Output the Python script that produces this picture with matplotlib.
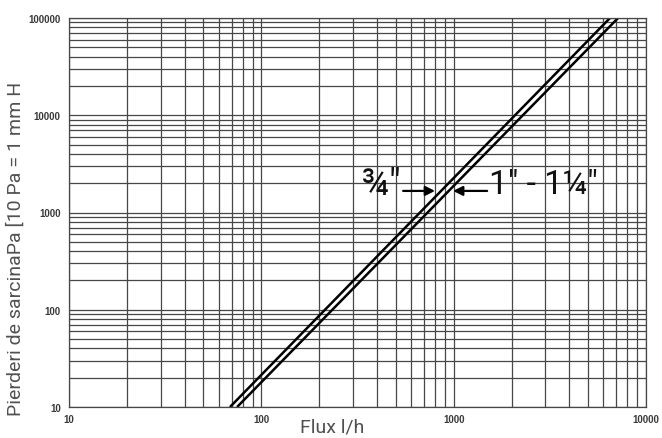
import matplotlib
matplotlib.use('Agg')
from matplotlib import pyplot as plt
from matplotlib.ticker import NullFormatter, LogLocator

# pressure drop curves (log-log)
dp_pa = [10, 100000]
flow_34 = [68.7, 6500]      # 3/4"
flow_1 = [74.8, 7160]       # 1" - 1 1/4"

x_ticks = [10, 100, 1000, 10000]
y_ticks = [10, 100, 1000, 10000, 100000]

GRID_COL = '#474747'
TEXT_COL = '#3a3a3a'
LABEL_COL = '#505050'

fig = plt.figure(figsize=(6.62, 4.39), dpi=100)
ax = fig.add_axes([69/662, 1 - 408/439, 577/662, 389/439])

ax.loglog(flow_34, dp_pa, color='k', lw=1.8, solid_capstyle='butt')
ax.loglog(flow_1, dp_pa, color='k', lw=1.8, solid_capstyle='butt')

ax.set_xlim(10, 10000)
ax.set_ylim(10, 100000)

ax.xaxis.set_minor_locator(LogLocator(base=10, subs=range(2, 10), numticks=20))
ax.yaxis.set_minor_locator(LogLocator(base=10, subs=range(2, 10), numticks=20))
ax.xaxis.set_minor_formatter(NullFormatter())
ax.yaxis.set_minor_formatter(NullFormatter())
ax.grid(True, which='both', color=GRID_COL, lw=0.9)

ax.set_xticks(x_ticks)
ax.set_xticklabels([str(v) for v in x_ticks])
ax.set_yticks(y_ticks)
ax.set_yticklabels([str(v) for v in y_ticks])
ax.tick_params(which='both', length=0)
ax.tick_params(axis='x', pad=5, labelsize=7, labelcolor=TEXT_COL)
ax.tick_params(axis='y', pad=6, labelsize=7, labelcolor=TEXT_COL)
for lab in ax.get_xticklabels() + ax.get_yticklabels():
    lab.set_fontweight('bold')
    lab.set_family('Liberation Sans')

for s in ax.spines.values():
    s.set_color(GRID_COL)
    s.set_linewidth(0.9)

# size annotations
arrow = dict(arrowstyle='-|>', color='k', lw=1.6, mutation_scale=14, shrinkA=0, shrinkB=0)
ax.annotate('', xy=(800, 1667), xytext=(546, 1667), arrowprops=arrow)
ax.annotate('', xy=(993, 1667), xytext=(1493, 1667), arrowprops=arrow)
ax.text(530, 1950, '\u00be"', ha='right', va='center', fontsize=26,
        family='Roboto', color='#111111')
ax.text(1530, 1950, '1" - 1\u00bc"', ha='left', va='center', fontsize=24,
        family='Roboto', color='#111111')

fig.text(332/662, 1 - 428/439, 'Flux l/h', ha='center', va='center',
         fontsize=14, family='Roboto', color=LABEL_COL)
fig.text(16/662, 1 - 249/439, 'Pierderi de sarcinaPa [10 Pa = 1 mm H',
         ha='center', va='center', rotation=90, fontsize=14,
         family='Roboto', color=LABEL_COL)

fig.savefig('out.png', dpi=100)
